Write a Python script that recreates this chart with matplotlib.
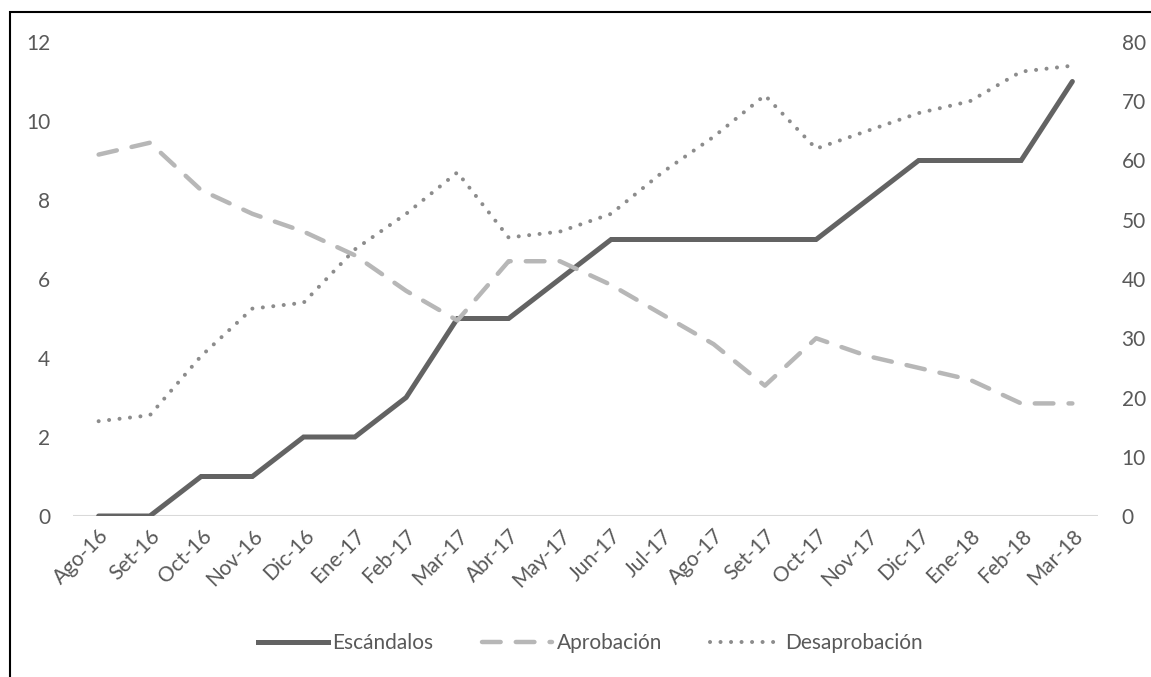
import matplotlib
matplotlib.use("Agg")
import matplotlib.pyplot as plt
from matplotlib.patches import Rectangle
from matplotlib.lines import Line2D

plt.rcParams['font.family'] = ['Lato', 'DejaVu Sans']

meses = ["Ago-16", "Set-16", "Oct-16", "Nov-16", "Dic-16", "Ene-17", "Feb-17",
         "Mar-17", "Abr-17", "May-17", "Jun-17", "Jul-17", "Ago-17", "Set-17",
         "Oct-17", "Nov-17", "Dic-17", "Ene-18", "Feb-18", "Mar-18"]
escandalos = [0, 0, 1, 1, 2, 2, 3, 5, 5, 6, 7, 7, 7, 7, 7, 8, 9, 9, 9, 11]
aprobacion = [61, 63, 55, 51, 48, 44, 38, 33, 43, 43, 39, 34, 29, 22, 30, 27, 25, 23, 19, 19]
desaprobacion = [16, 17, 27, 35, 36, 45, 51, 58, 47, 48, 51, 58, 64, 71, 62, 65, 68, 70, 75, 76]

left_ticks = [0, 2, 4, 6, 8, 10, 12]
right_ticks = [0, 10, 20, 30, 40, 50, 60, 70, 80]

W, H = 1151, 677
fig = plt.figure(figsize=(W / 100, H / 100), dpi=100)
ax = fig.add_axes([73 / W, 1 - 516 / H, (1098 - 73) / W, (516 - 42) / H])
ax2 = ax.twinx()

x = list(range(len(meses)))
c_esc = "#636363"
c_apr = "#b7b7b7"
c_des = "#8c8c8c"
tick_col = "#595959"
fs = 15

l1, = ax.plot(x, escandalos, color=c_esc, lw=3.6, solid_joinstyle="miter",
              solid_capstyle="round", zorder=3)
l2, = ax2.plot(x, aprobacion, color=c_apr, lw=3.2, dashes=(4.2, 3.4),
               dash_capstyle="round", dash_joinstyle="round", zorder=2)
l3, = ax2.plot(x, desaprobacion, color=c_des, lw=2.9, dashes=(0.01, 2.6),
               dash_capstyle="round", zorder=2)

ax.set_xlim(-0.5, len(meses) - 0.5)
ax.set_ylim(0, 12)
ax2.set_ylim(0, 80)
ax.set_yticks(left_ticks)
ax2.set_yticks(right_ticks)
ax.set_xticks(x)
ax.set_xticklabels(meses, rotation=45, ha="right", va="top",
                   rotation_mode="anchor")

for a in (ax, ax2):
    for s in a.spines.values():
        s.set_visible(False)
    a.tick_params(length=0, colors=tick_col, labelsize=fs)
ax.tick_params(axis="y", pad=16.5)
ax2.tick_params(axis="y", pad=17)
ax.tick_params(axis="x", pad=7)
for lab in ax.get_xticklabels():
    lab.set_color(tick_col)

ax.axhline(0, color="#d9d9d9", lw=1.5, zorder=1)

handles = [Line2D([], [], color=c_esc, lw=3.6),
           Line2D([], [], color=c_apr, lw=3.2, dashes=(4.2, 3.4), dash_capstyle="round"),
           Line2D([], [], color=c_des, lw=2.9, dashes=(0.01, 2.6), dash_capstyle="round")]
leg = fig.legend(handles, ["Escándalos", "Aprobación", "Desaprobación"],
                 loc="center", bbox_to_anchor=(590 / W, 1 - 643 / H), ncol=3,
                 frameon=False, fontsize=fs, handlelength=3.4, columnspacing=2.3,
                 handletextpad=0.2)
for t in leg.get_texts():
    t.set_color(tick_col)

fig.patches.append(Rectangle((10 / W, -0.05), 1.2, 1 - 12 / H + 0.05,
                             transform=fig.transFigure, fill=False,
                             edgecolor="black", lw=1.5, clip_on=False))

fig.savefig("out.png", dpi=100)
